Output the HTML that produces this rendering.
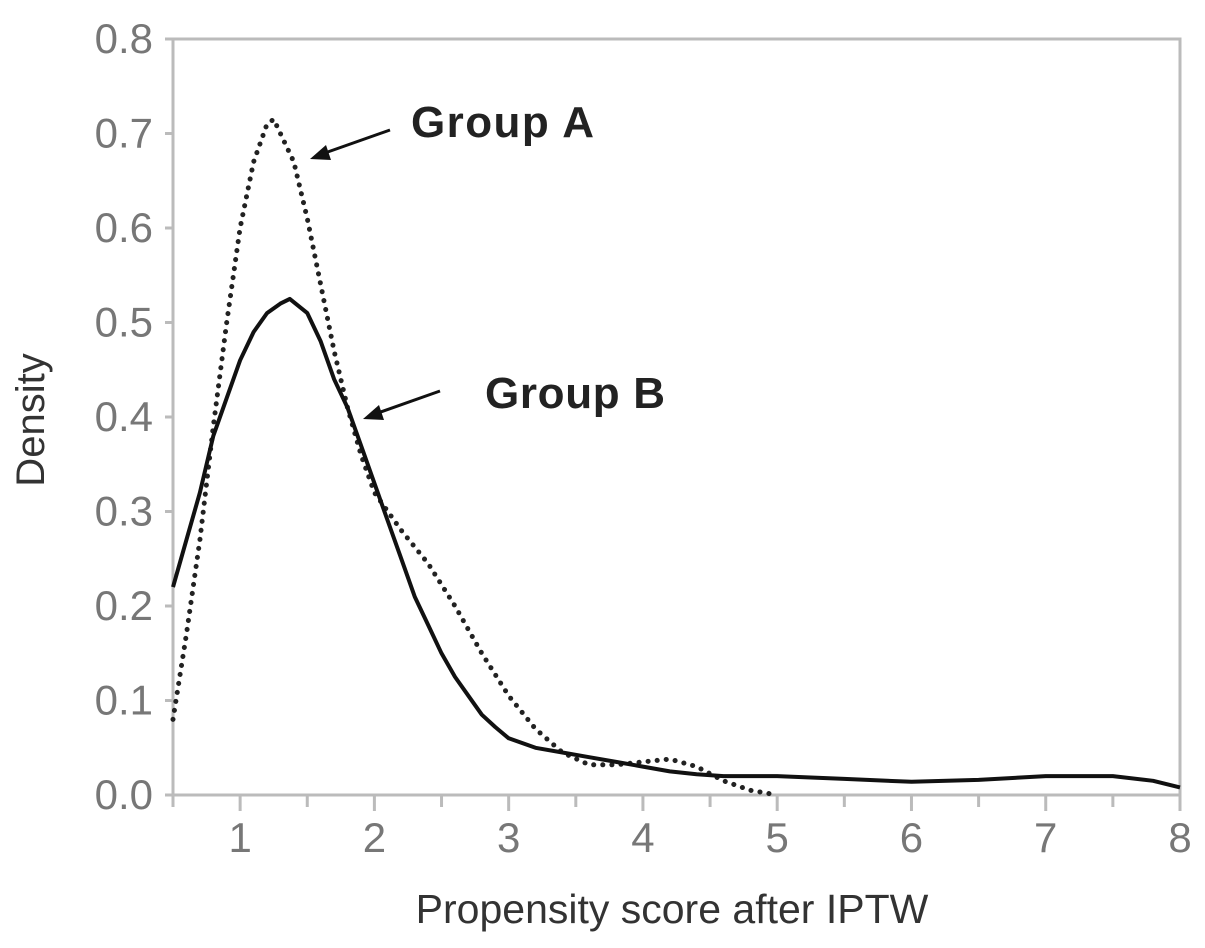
<!DOCTYPE html>
<html><head><meta charset="utf-8"><style>
body{margin:0;background:#fff;}
svg text{font-family:"Liberation Sans",sans-serif;}
</style></head><body>
<svg id="chart" width="1205" height="943" viewBox="0 0 1205 943" xmlns="http://www.w3.org/2000/svg">
<g id="axes"></g>
<g id="series"></g>
<text transform="translate(44,420) rotate(-90)" text-anchor="middle" font-size="40" fill="#333">Density</text>
<text x="672" y="923" text-anchor="middle" font-size="41" fill="#333">Propensity score after IPTW</text>
<text x="411" y="137" font-size="44" font-weight="bold" fill="#222" textLength="183">Group A</text>
<text x="485" y="408" font-size="44" font-weight="bold" fill="#222" textLength="180">Group B</text>
<g><line x1="390" y1="130" x2="322" y2="154" stroke="#111" stroke-width="3"/><polygon points="310,159 326,145 331,160" fill="#111"/></g>
<g><line x1="440" y1="391" x2="375" y2="414" stroke="#111" stroke-width="3"/><polygon points="363,419 379,405 384,420" fill="#111"/></g>
</svg>
<script>
const xTicks=[1,2,3,4,5,6,7,8];
const yTicks=[0,0.1,0.2,0.3,0.4,0.5,0.6,0.7,0.8];
const groupBx=[0.5,0.6,0.7,0.8,0.9,1.0,1.1,1.2,1.3,1.37,1.5,1.6,1.7,1.8,1.9,2.0,2.1,2.2,2.3,2.4,2.5,2.6,2.7,2.8,2.9,3.0,3.2,3.4,3.6,3.8,4.0,4.2,4.4,4.6,5.0,5.5,6.0,6.5,7.0,7.5,7.8,8.0];
const groupBy=[0.22,0.27,0.32,0.38,0.42,0.46,0.49,0.51,0.52,0.525,0.51,0.48,0.44,0.41,0.37,0.33,0.29,0.25,0.21,0.18,0.15,0.125,0.105,0.085,0.072,0.06,0.05,0.045,0.04,0.035,0.03,0.025,0.022,0.02,0.02,0.017,0.014,0.016,0.02,0.02,0.015,0.008];
const groupAx=[0.5,0.6,0.7,0.8,0.9,1.0,1.1,1.2,1.25,1.3,1.4,1.5,1.6,1.7,1.8,1.9,2.0,2.2,2.4,2.6,2.8,3.0,3.2,3.4,3.6,3.8,4.0,4.2,4.4,4.6,4.8,5.0];
const groupAy=[0.08,0.17,0.27,0.39,0.50,0.60,0.67,0.71,0.715,0.70,0.67,0.61,0.54,0.47,0.41,0.36,0.32,0.28,0.245,0.2,0.15,0.105,0.07,0.045,0.032,0.032,0.035,0.038,0.03,0.015,0.005,0];
const X0=173,X1=1180,Y0=795,Y1=39,xmin=0.5,xmax=8,ymax=0.8;
const sx=v=>X0+(v-xmin)/(xmax-xmin)*(X1-X0);
const sy=v=>Y0-v/ymax*(Y0-Y1);
const NS="http://www.w3.org/2000/svg";
function mk(t,a,p){const e=document.createElementNS(NS,t);for(const k in a)e.setAttribute(k,a[k]);p.appendChild(e);return e;}
const ax=document.getElementById('axes');
const frame=mk('rect',{x:X0,y:Y1,width:X1-X0,height:Y0-Y1,fill:'none',stroke:'#bbb','stroke-width':3},ax);


yTicks.forEach(v=>{
  const l=mk('line',{x1:X0-8,x2:X0,y1:sy(v),y2:sy(v),stroke:'#bbb','stroke-width':3},ax);
  
  
  const t=mk('text',{x:X0-20,y:sy(v)+14,'text-anchor':'end','font-size':42,fill:'#777'},ax);
  t.textContent=v.toFixed(1);
  
  
});
for(let v=0.5;v<=8.001;v+=0.5){
  const major=Number.isInteger(v);
  const l=mk('line',{x1:sx(v),x2:sx(v),y1:Y0,y2:Y0+(major?16:12),stroke:'#bbb','stroke-width':3},ax);
  
  
}
xTicks.forEach(v=>{
  const t=mk('text',{x:sx(v),y:852,'text-anchor':'middle','font-size':42,fill:'#777'},ax);
  t.textContent=v;
  
  
});
const sg=document.getElementById('series');
function path(xs,ys){let d='';xs.forEach((x,i)=>{d+=(i?'L':'M')+sx(x).toFixed(1)+','+sy(ys[i]).toFixed(1);});return d;}
const pa=mk('path',{d:path(groupAx,groupAy),fill:'none',stroke:'#222','stroke-width':5,'stroke-dasharray':'0.1 9','stroke-linecap':'round'},sg);


const pb=mk('path',{d:path(groupBx,groupBy),fill:'none',stroke:'#111','stroke-width':4,'stroke-linejoin':'round'},sg);


</script>
</body></html>
